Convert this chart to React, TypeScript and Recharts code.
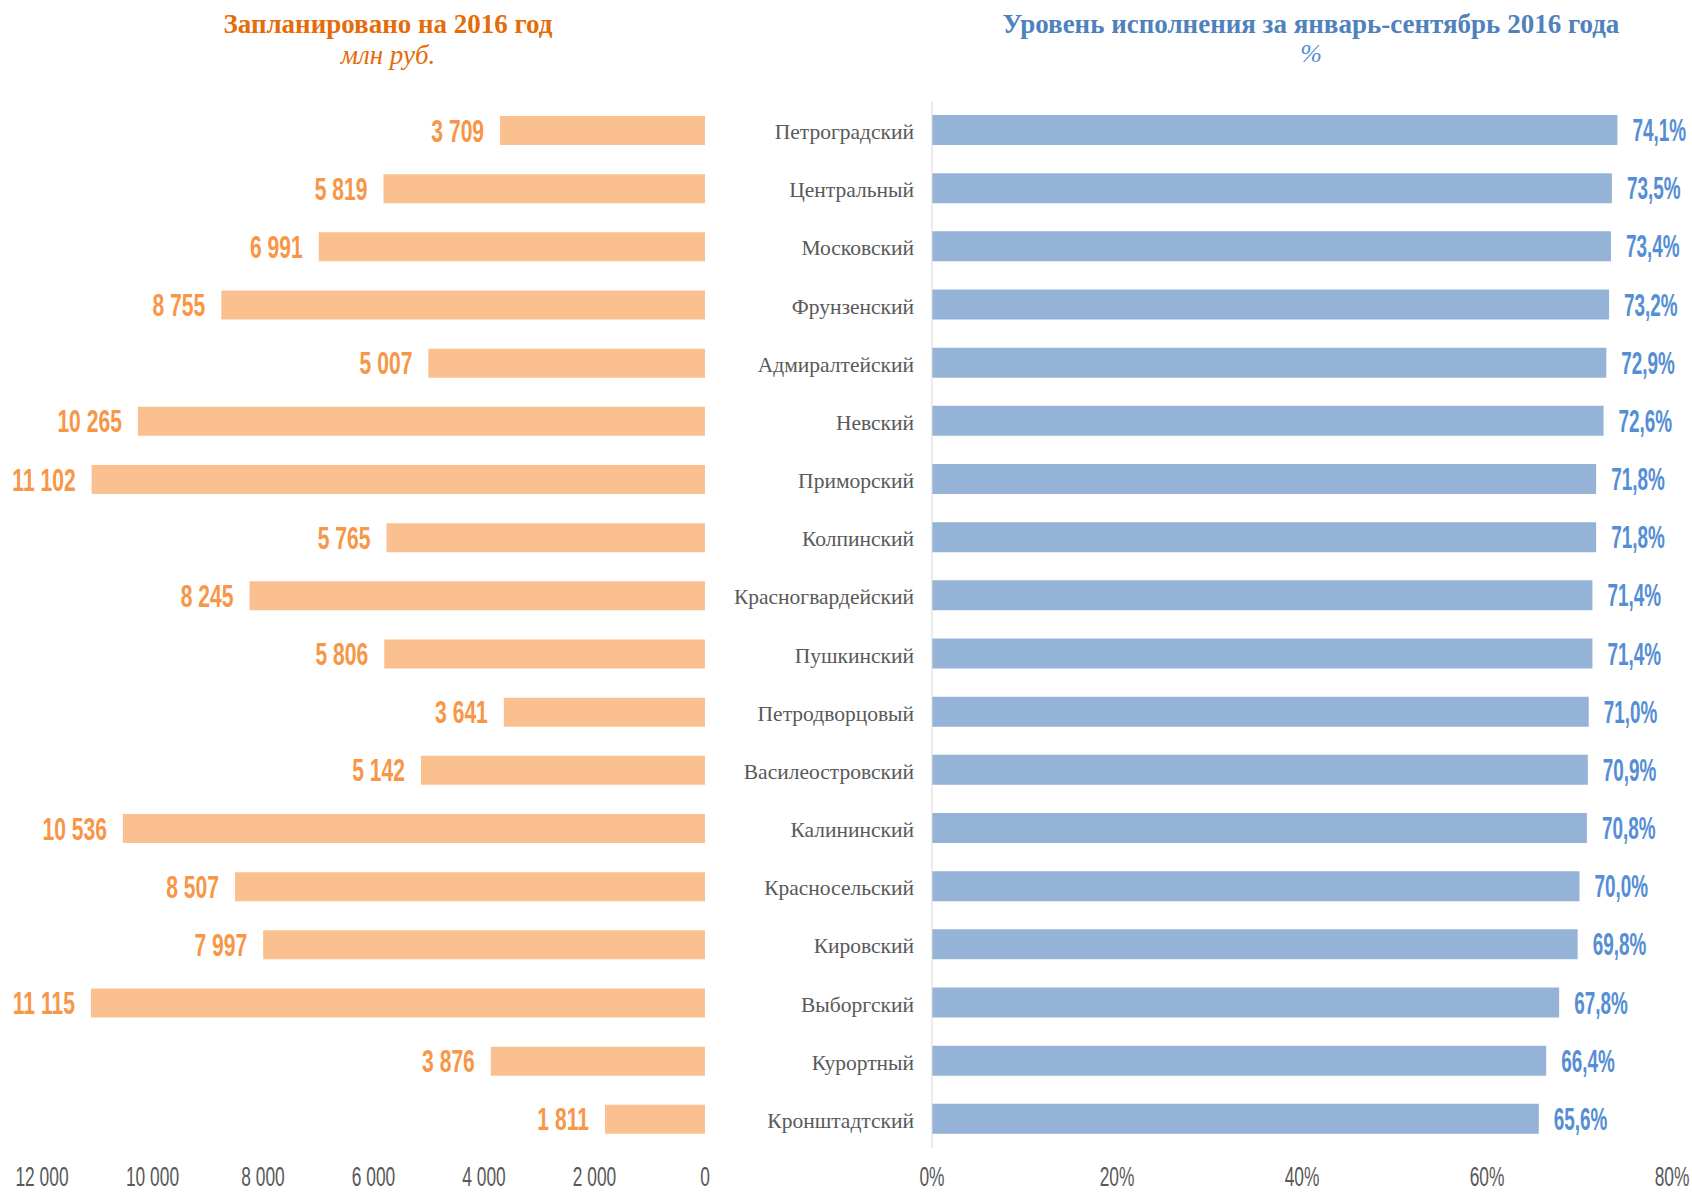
import * as React from 'react';
import { Bar, BarChart, LabelList, XAxis, YAxis } from 'recharts';

const districts = [
  'Петроградский', 'Центральный', 'Московский', 'Фрунзенский', 'Адмиралтейский', 'Невский',
  'Приморский', 'Колпинский', 'Красногвардейский', 'Пушкинский', 'Петродворцовый',
  'Василеостровский', 'Калининский', 'Красносельский', 'Кировский', 'Выборгский',
  'Курортный', 'Кронштадтский',
];
const planned = [3709, 5819, 6991, 8755, 5007, 10265, 11102, 5765, 8245, 5806, 3641, 5142, 10536, 8507, 7997, 11115, 3876, 1811];
const execution = [74.1, 73.5, 73.4, 73.2, 72.9, 72.6, 71.8, 71.8, 71.4, 71.4, 71.0, 70.9, 70.8, 70.0, 69.8, 67.8, 66.4, 65.6];
const plannedTicks = [0, 2000, 4000, 6000, 8000, 10000, 12000];
const percentTicks = [0, 20, 40, 60, 80];

const chartData = districts.map((name, i) => ({ name, plan: planned[i], pct: execution[i] }));

const condensed = '"Liberation Sans", Arial, sans-serif';
const serif = '"Liberation Serif", "Times New Roman", serif';

const fmtThousands = (v: number) => String(v).replace(/\B(?=(\d{3})+(?!\d))/g, ' ');
const fmtPct = (v: number) => v.toFixed(1).replace('.', ',') + '%';

function AxisTick({ x, y, payload, fmt }: any) {
  return (
    <text
      transform={`translate(${x},${y + 36}) scale(0.62,1)`}
      textAnchor="middle"
      fontFamily={condensed}
      fontSize={28}
      fill="#595959"
    >
      {fmt(payload.value)}
    </text>
  );
}

function DistrictTick({ x, y, payload }: any) {
  return (
    <text x={x - 16} y={y + 9} textAnchor="end" fontFamily={serif} fontSize={21.5} fill="#595959">
      {payload.value}
    </text>
  );
}

function PlanLabel({ x, y, width, height, value }: any) {
  const left = Math.min(x, x + width);
  return (
    <text
      transform={`translate(${left - 16},${y + height / 2 + 11}) scale(0.68,1)`}
      textAnchor="end"
      fontFamily={condensed}
      fontWeight="bold"
      fontSize={31}
      fill="#F79646"
    >
      {fmtThousands(value)}
    </text>
  );
}

function PctLabel({ x, y, width, height, value }: any) {
  const right = Math.max(x, x + width);
  return (
    <text
      transform={`translate(${right + 15},${y + height / 2 + 11}) scale(0.61,1)`}
      textAnchor="start"
      fontFamily={condensed}
      fontWeight="bold"
      fontSize={31}
      fill="#558ED5"
    >
      {fmtPct(value)}
    </text>
  );
}

export default function App() {
  return (
    <div style={{ position: 'absolute', left: 0, top: 0, width: 1692, height: 1192, background: '#fff', overflow: 'hidden' }}>
      <div style={{ position: 'absolute', left: 88, width: 600, top: 9, textAlign: 'center', fontFamily: serif }}>
        <div style={{ fontSize: 27, lineHeight: '31px', fontWeight: 'bold', color: '#E46C0A' }}>Запланировано на 2016 год</div>
        <div style={{ fontSize: 27, lineHeight: '31px', fontStyle: 'italic', color: '#E46C0A' }}>млн руб.</div>
      </div>
      <div style={{ position: 'absolute', left: 961, width: 700, top: 9, textAlign: 'center', fontFamily: serif }}>
        <div style={{ fontSize: 27, lineHeight: '31px', fontWeight: 'bold', color: '#4F81BD' }}>Уровень исполнения за январь-сентябрь 2016 года</div>
        <div style={{ fontSize: 26, lineHeight: '28px', fontStyle: 'italic', color: '#558ED5' }}>%</div>
      </div>

      <div style={{ position: 'absolute', left: 0, top: 0 }}>
        <BarChart width={730} height={1192} data={chartData} layout="vertical" margin={{ top: 101, right: 25, bottom: 14, left: 42 }}>
          <XAxis
            type="number"
            reversed
            domain={[0, 12000]}
            ticks={plannedTicks}
            axisLine={false}
            tickLine={false}
            tickSize={0}
            height={30}
            interval={0}
            tick={<AxisTick fmt={fmtThousands} />}
          />
          <YAxis type="category" dataKey="name" hide />
          <Bar dataKey="plan" fill="#FAC090" barSize={29} isAnimationActive={false}>
            <LabelList dataKey="plan" content={<PlanLabel />} />
          </Bar>
        </BarChart>
      </div>

      <div style={{ position: 'absolute', left: 720, top: 0 }}>
        <BarChart width={972} height={1192} data={chartData} layout="vertical" margin={{ top: 101, right: 20, bottom: 14, left: 0 }}>
          <XAxis
            type="number"
            domain={[0, 80]}
            ticks={percentTicks}
            axisLine={false}
            tickLine={false}
            tickSize={0}
            height={30}
            interval={0}
            tick={<AxisTick fmt={(v: number) => `${v}%`} />}
          />
          <YAxis
            type="category"
            dataKey="name"
            width={212}
            axisLine={{ stroke: '#D9D9D9' }}
            tickLine={false}
            tickSize={0}
            interval={0}
            tick={<DistrictTick />}
          />
          <Bar dataKey="pct" fill="#95B3D7" barSize={30} isAnimationActive={false}>
            <LabelList dataKey="pct" content={<PctLabel />} />
          </Bar>
        </BarChart>
      </div>
    </div>
  );
}
